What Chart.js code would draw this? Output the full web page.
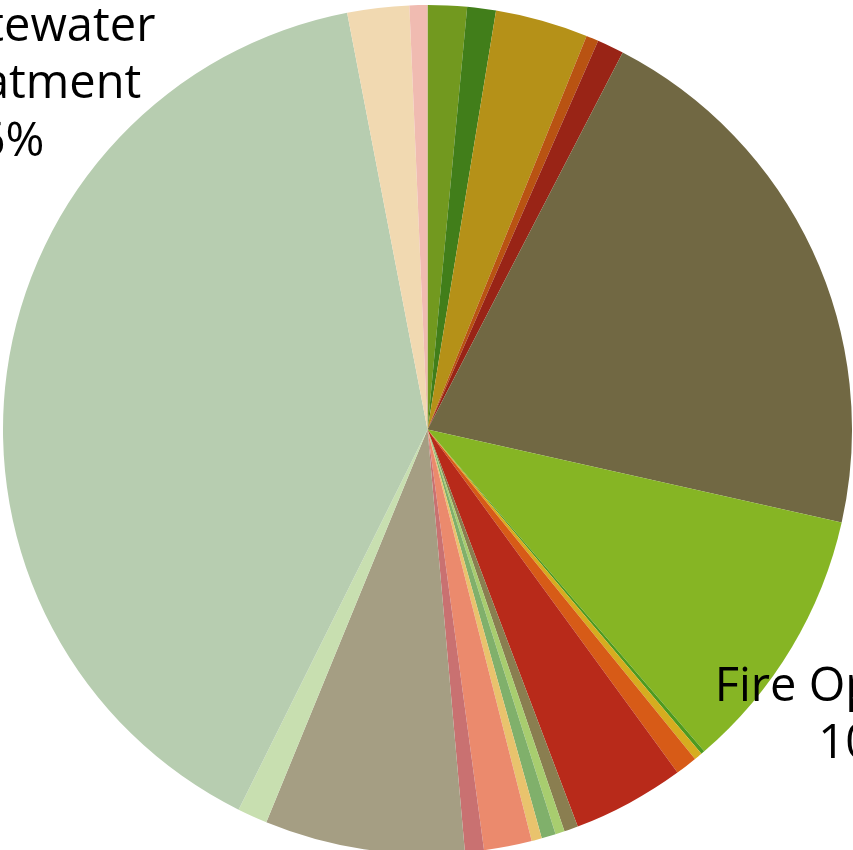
<!DOCTYPE html>
<html>
<head>
<meta charset="utf-8">
<script src="https://cdn.jsdelivr.net/npm/chart.js@4"></script>
<style>
  html, body { margin:0; padding:0; background:#fff; overflow:hidden; }
  #wrap { position:relative; width:853px; height:860px; }
</style>
</head>
<body>
<div id="wrap"><canvas id="pie"></canvas></div>
<script>
// ── Data (share of budget, %) ─────────────────────────────
const categories = [
  'Economic Development', 'Planning', 'Public Works', 'City Clerk', 'Human Resources',
  'Police', 'Fire Operations', 'Emergency Management', 'City Council', 'City Attorney',
  'Parks and Recreation', 'Library', "Mayor's Office", 'Finance', 'Information Technology',
  'Streets', 'Code Enforcement', 'Water Utility', 'Stormwater',
  ['City Wastewater', 'and Treatment'], 'Solid Waste', 'Fleet Services'
];
const shares = [
  1.49, 1.09, 3.53, 0.47, 1.02,
  20.9, 10.17, 0.14, 0.31, 0.83,
  4.26, 0.53, 0.35, 0.54, 0.39,
  1.82, 0.72, 7.6, 1.14,
  39.6, 2.35, 0.68
];
const colors = [
  '#72991f', '#417e1a', '#b59118', '#b95312', '#992416',
  '#716843', '#86b524', '#4d9a1f', '#d6ad1f', '#d75b17',
  '#b82a1a', '#8a7e50', '#a8cd6f', '#80b06b', '#e9c36d',
  '#eb8a6d', '#c97171', '#a59e83', '#c8dfb0',
  '#b7cdb0', '#f1d9b1', '#f0bbb1'
];

// ── Outside data labels (name + percent) ──────────────────
const outsideLabels = {
  id: 'outsideLabels',
  afterDatasetsDraw(chart, args, opts) {
    const meta = chart.getDatasetMeta(0);
    const data = chart.data.datasets[0].data;
    const total = data.reduce((s, v) => s + v, 0);
    const ctx = chart.ctx;
    ctx.save();
    ctx.font = opts.font;
    ctx.fillStyle = opts.color;
    ctx.textAlign = 'center';
    ctx.textBaseline = 'alphabetic';
    opts.items.forEach(({ index, dx, dy }) => {
      const arc = meta.data[index];
      const x = arc.x + arc.outerRadius * dx;
      let y = arc.y + arc.outerRadius * dy;
      const name = chart.data.labels[index];
      const lines = [...(Array.isArray(name) ? name : [name]), (data[index] / total * 100).toFixed(1) + '%'];
      lines.forEach(line => { ctx.fillText(line, x, y); y += opts.lineHeight; });
    });
    ctx.restore();
  }
};

new Chart(document.getElementById('pie'), {
  type: 'pie',
  data: {
    labels: categories,
    datasets: [{ data: shares, backgroundColor: colors, borderWidth: 0, hoverOffset: 0 }]
  },
  options: {
    responsive: true,
    maintainAspectRatio: false,
    animation: false,
    events: [],
    layout: { padding: { left: 3, right: 1, top: 5, bottom: 6 } },
    plugins: {
      legend: { display: false },
      tooltip: { enabled: false },
      outsideLabels: {
        font: '47px "Open Sans"',
        color: '#000',
        lineHeight: 57.5,
        items: [
          { index: 6,  dx: 1.076,  dy: 0.639 },
          { index: 19, dx: -1.058, dy: -0.916 }
        ]
      }
    }
  },
  plugins: [outsideLabels]
});
</script>
</body>
</html>
